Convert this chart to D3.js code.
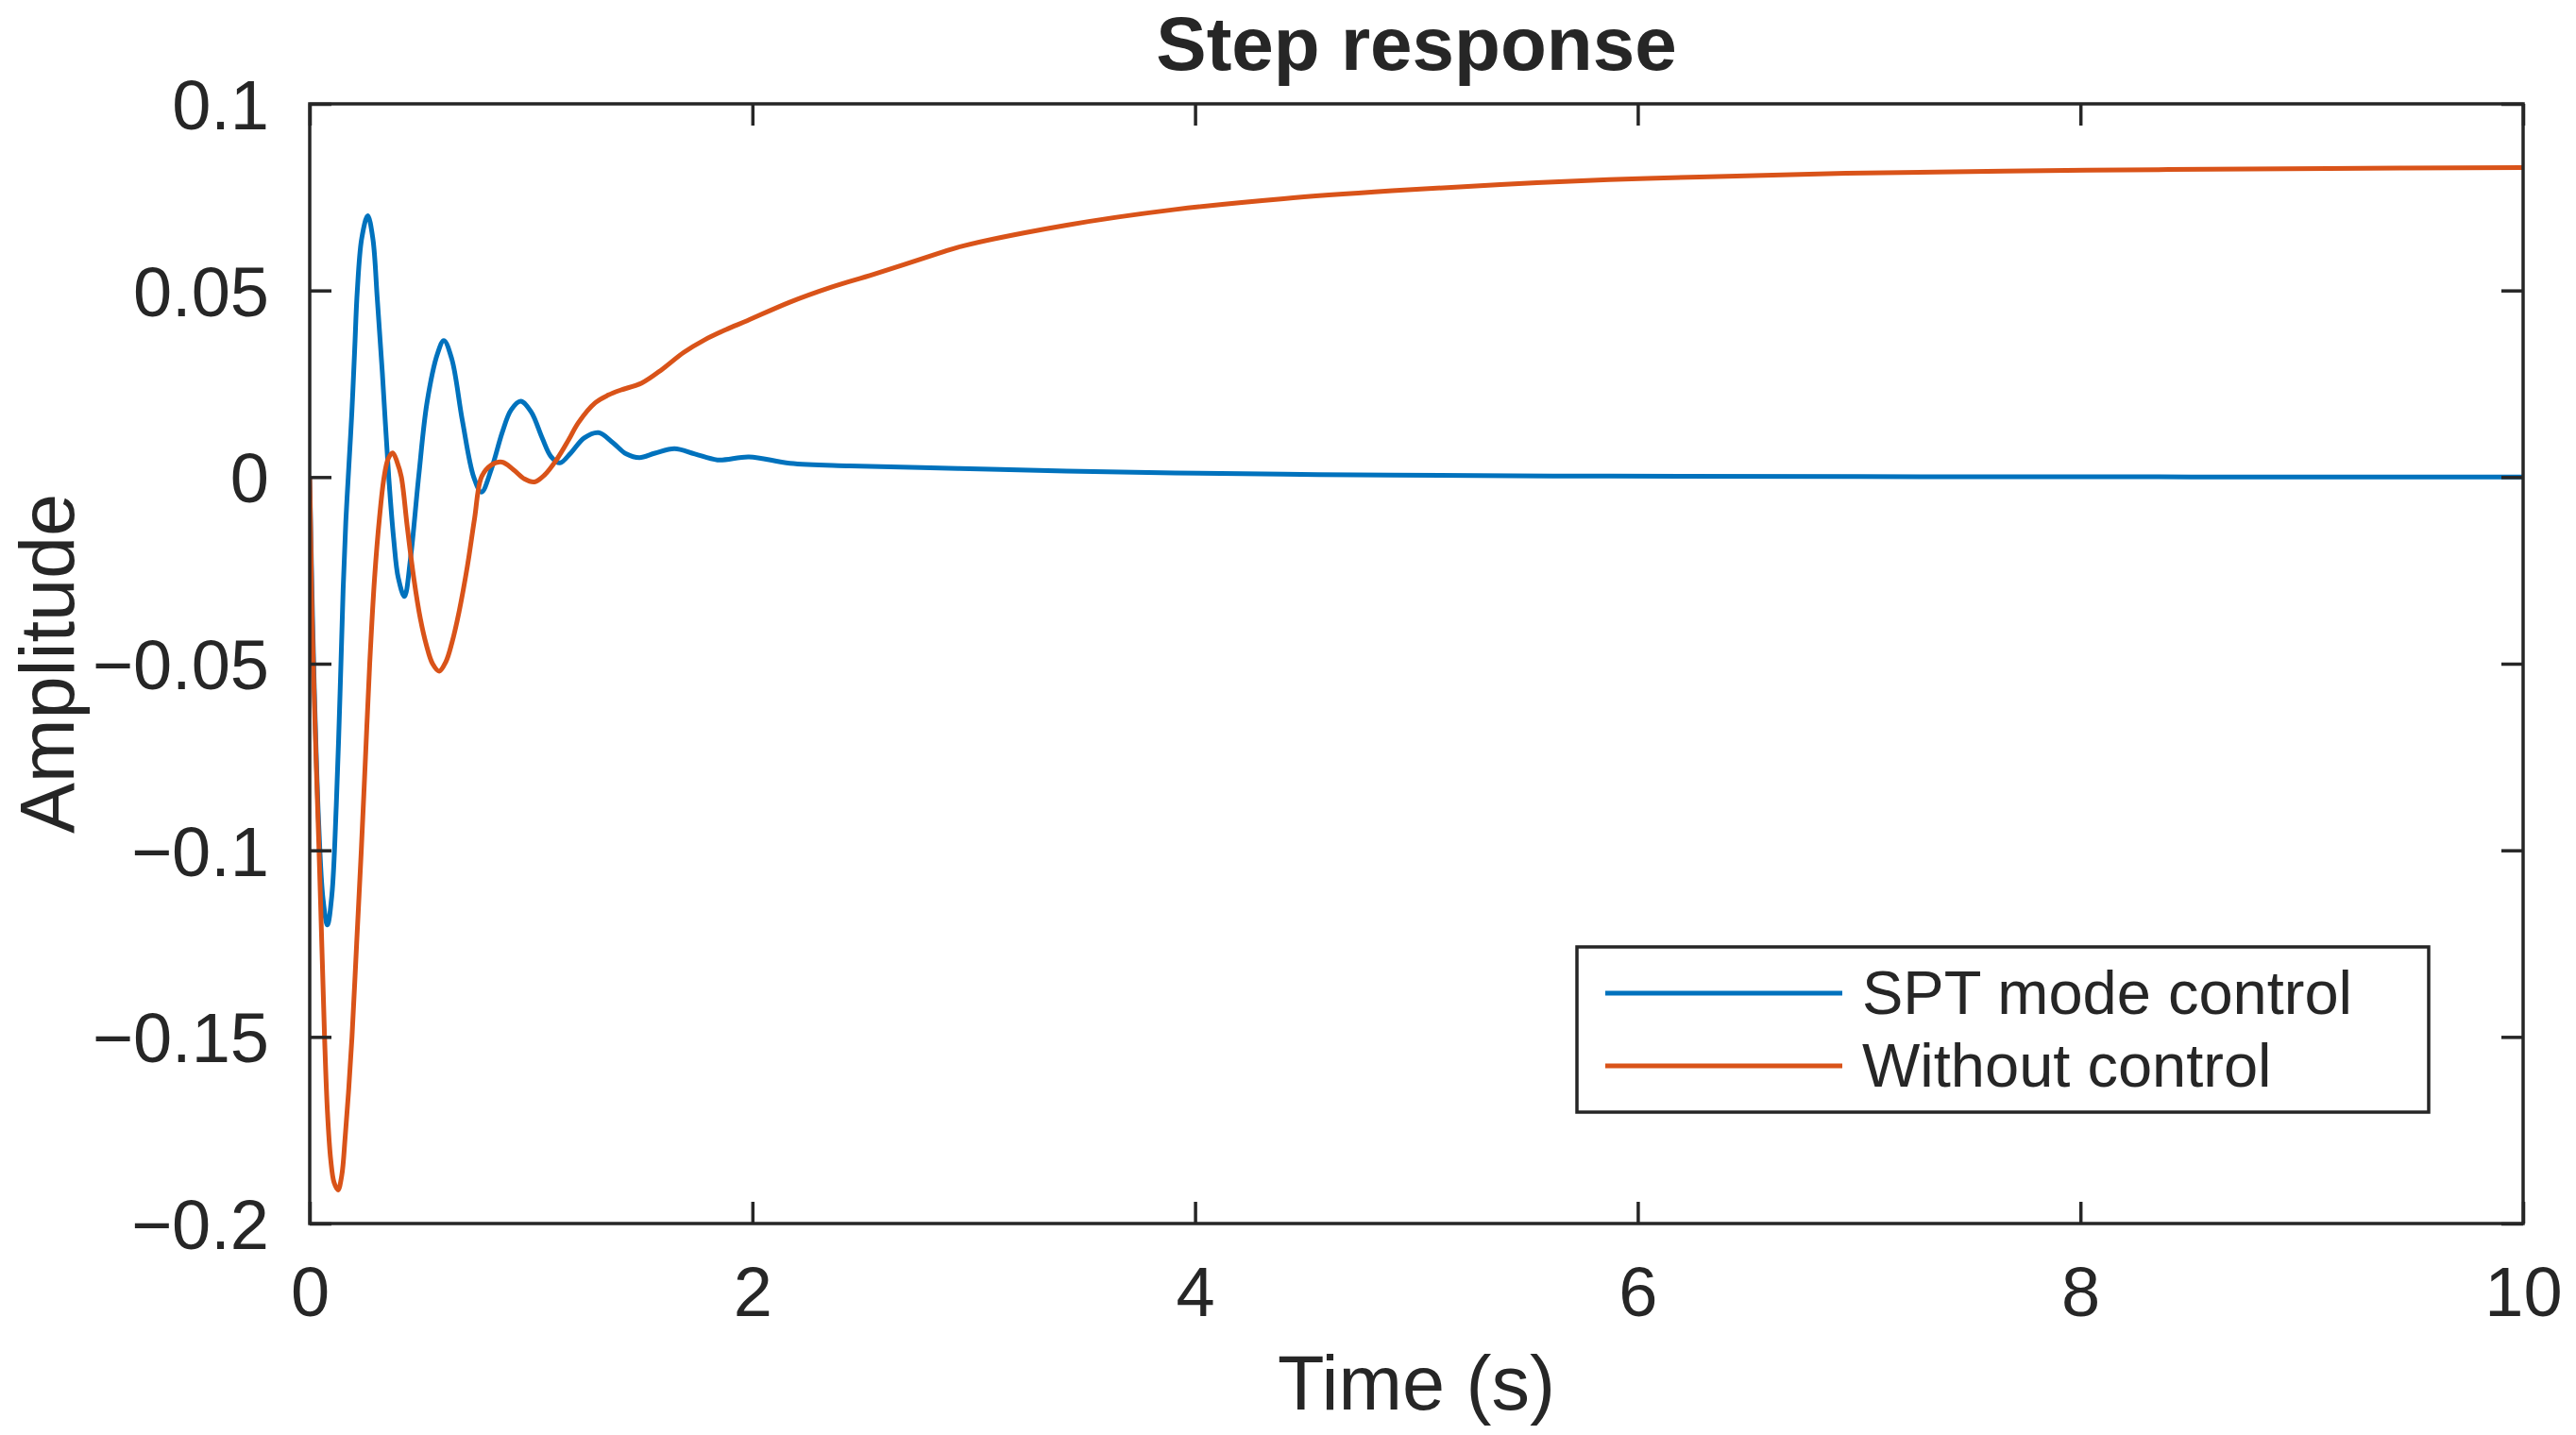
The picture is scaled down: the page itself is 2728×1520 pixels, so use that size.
<!DOCTYPE html>
<html>
<head>
<meta charset="utf-8">
<script src="https://cdn.jsdelivr.net/npm/d3@7"></script>
<style>
  html, body { margin: 0; padding: 0; background: #ffffff; }
  svg { display: block; }
  text { font-family: "Liberation Sans", Arial, Helvetica, sans-serif; fill: #262626; }
</style>
</head>
<body>
<svg id="chart" width="2728" height="1520"></svg>
<script>
// ---- data ----
const titleText = "Step response";
const xLabelText = "Time (s)";
const yLabelText = "Amplitude";
const seriesNames = ["SPT mode control", "Without control"];

const xTicks = [0, 2, 4, 6, 8, 10];
const xTickLabels = ["0", "2", "4", "6", "8", "10"];
const yTicks = [-0.2, -0.15, -0.1, -0.05, 0, 0.05, 0.1];
const yTickLabels = ["\u22120.2", "\u22120.15", "\u22120.1", "\u22120.05", "0", "0.05", "0.1"];

const sptTime = [0, 0.01, 0.02, 0.04, 0.06, 0.08, 0.10, 0.12, 0.137, 0.151, 0.163, 0.174, 0.19, 0.203, 0.215, 0.235, 0.262, 0.285, 0.305, 0.328, 0.357, 0.38, 0.40, 0.428, 0.455, 0.492, 0.53, 0.577, 0.606, 0.642, 0.69, 0.741, 0.776, 0.82, 0.87, 0.91, 0.953, 1.0, 1.05, 1.09, 1.13, 1.18, 1.24, 1.305, 1.37, 1.43, 1.49, 1.56, 1.648, 1.74, 1.842, 1.985, 2.17, 2.44, 2.93, 3.42, 3.91, 4.4, 4.89, 5.87, 7, 8.5, 10];
const sptValue = [0, -0.03, -0.055, -0.092, -0.113, -0.120, -0.112, -0.088, -0.058, -0.030, -0.012, 0.0, 0.017, 0.034, 0.050, 0.064, 0.070, 0.064, 0.048, 0.028, 0.0, -0.017, -0.027, -0.032, -0.022, 0.0, 0.020, 0.0330, 0.0366, 0.0316, 0.015, 0.0, -0.0040, 0.002, 0.012, 0.018, 0.0203, 0.0175, 0.0105, 0.0055, 0.0038, 0.0065, 0.0105, 0.0119, 0.0092, 0.0062, 0.0052, 0.0064, 0.0076, 0.0062, 0.0046, 0.0054, 0.0037, 0.0030, 0.0023, 0.0016, 0.0011, 0.00076, 0.0005, 0.00025, 0.00012, 0.00005, 0.0];

const noCtrlTime = [0, 0.005, 0.011, 0.02, 0.03, 0.042, 0.055, 0.067, 0.08, 0.095, 0.11, 0.128, 0.145, 0.16, 0.175, 0.191, 0.212, 0.233, 0.252, 0.271, 0.293, 0.315, 0.336, 0.355, 0.375, 0.395, 0.414, 0.44, 0.47, 0.50, 0.527, 0.555, 0.585, 0.615, 0.642, 0.675, 0.712, 0.745, 0.776, 0.82, 0.869, 0.92, 0.97, 1.015, 1.06, 1.118, 1.17, 1.214, 1.29, 1.35, 1.404, 1.5, 1.595, 1.69, 1.785, 1.88, 1.976, 2.166, 2.357, 2.547, 2.85, 2.93, 3.42, 3.91, 4.4, 4.89, 5.38, 5.87, 6.28, 6.94, 8.03, 9.12, 10];
const noCtrlValue = [0, -0.018, -0.038, -0.058, -0.078, -0.100, -0.126, -0.150, -0.170, -0.183, -0.189, -0.191, -0.187, -0.177, -0.165, -0.150, -0.125, -0.100, -0.075, -0.050, -0.027, -0.011, 0.0, 0.005, 0.0065, 0.004, 0.0, -0.013, -0.027, -0.038, -0.045, -0.050, -0.052, -0.0495, -0.0445, -0.036, -0.024, -0.011, 0.0, 0.0032, 0.0040, 0.0020, -0.0005, -0.0013, 0.0005, 0.0049, 0.0100, 0.0146, 0.0199, 0.0220, 0.0233, 0.0252, 0.029, 0.0334, 0.0368, 0.0395, 0.0419, 0.0468, 0.0509, 0.0543, 0.0601, 0.0616, 0.0675, 0.0717, 0.0746, 0.0767, 0.0784, 0.0797, 0.0804, 0.0814, 0.0822, 0.0827, 0.0829];

const seriesColors = ["#0072BD", "#D95319"];

// ---- layout ----
const plot = { left: 328, top: 110, right: 2672, bottom: 1296 };
const axisColor = "#262626";
const tickFont = 74;

const svg = d3.select("#chart");
svg.append("rect").attr("width", 2728).attr("height", 1520).attr("fill", "#ffffff");

const x = d3.scaleLinear().domain([0, 10]).range([plot.left, plot.right]);
const y = d3.scaleLinear().domain([-0.2, 0.1]).range([plot.bottom, plot.top]);

svg.append("clipPath").attr("id", "clip")
  .append("rect")
  .attr("x", plot.left).attr("y", plot.top)
  .attr("width", plot.right - plot.left).attr("height", plot.bottom - plot.top);

// lines
const series = [
  { name: seriesNames[0], data: sptTime.map((t, i) => [t, sptValue[i]]), color: seriesColors[0] },
  { name: seriesNames[1], data: noCtrlTime.map((t, i) => [t, noCtrlValue[i]]), color: seriesColors[1] }
];

const line = d3.line()
  .x(d => x(d[0]))
  .y(d => y(d[1]))
  .curve(d3.curveCatmullRom.alpha(0.5));

const lineG = svg.append("g").attr("clip-path", "url(#clip)");
series.forEach(s => {
  lineG.append("path")
    .attr("d", line(s.data))
    .attr("fill", "none")
    .attr("stroke", s.color)
    .attr("stroke-width", 5)
    .attr("stroke-linejoin", "round");
});

// axes
const tickLen = 23;
function styleAxis(g) {
  g.select(".domain").remove();
  g.selectAll(".tick line").attr("stroke", axisColor).attr("stroke-width", 3.5);
  g.selectAll(".tick text")
    .attr("fill", axisColor)
    .style("font-family", '"Liberation Sans", Arial, Helvetica, sans-serif')
    .style("font-size", tickFont + "px");
}

svg.append("g")
  .attr("transform", `translate(0,${plot.bottom})`)
  .call(d3.axisBottom(x).tickValues(xTicks).tickFormat((d, i) => xTickLabels[i])
        .tickSize(-tickLen).tickSizeOuter(0).tickPadding(45))
  .call(styleAxis)
  .call(g => g.selectAll(".tick text").attr("y", 45).attr("dy", "0.71em"));

svg.append("g")
  .attr("transform", `translate(0,${plot.top})`)
  .call(d3.axisTop(x).tickValues(xTicks).tickFormat("").tickSize(-tickLen).tickSizeOuter(0))
  .call(styleAxis);

svg.append("g")
  .attr("transform", `translate(${plot.left},0)`)
  .call(d3.axisLeft(y).tickValues(yTicks).tickFormat((d, i) => yTickLabels[i])
        .tickSize(-tickLen).tickSizeOuter(0).tickPadding(43))
  .call(styleAxis)
  .call(g => g.selectAll(".tick text").attr("x", -43).attr("dy", "0.36em"));

svg.append("g")
  .attr("transform", `translate(${plot.right},0)`)
  .call(d3.axisRight(y).tickValues(yTicks).tickFormat("").tickSize(-tickLen).tickSizeOuter(0))
  .call(styleAxis);

// box
svg.append("rect")
  .attr("x", plot.left).attr("y", plot.top)
  .attr("width", plot.right - plot.left).attr("height", plot.bottom - plot.top)
  .attr("fill", "none").attr("stroke", axisColor).attr("stroke-width", 3.5);

// title & labels
svg.append("text")
  .attr("x", (plot.left + plot.right) / 2).attr("y", 74)
  .attr("text-anchor", "middle")
  .style("font-size", "80px").style("font-weight", "bold")
  .text(titleText);

svg.append("text")
  .attr("x", (plot.left + plot.right) / 2).attr("y", 1493)
  .attr("text-anchor", "middle")
  .style("font-size", "81px")
  .text(xLabelText);

svg.append("text")
  .attr("transform", `translate(78,${(plot.top + plot.bottom) / 2}) rotate(-90)`)
  .attr("text-anchor", "middle")
  .style("font-size", "81px")
  .text(yLabelText);

// legend
const legend = { left: 1670, top: 1003, right: 2572, bottom: 1178 };
const legendG = svg.append("g");
legendG.append("rect")
  .attr("x", legend.left).attr("y", legend.top)
  .attr("width", legend.right - legend.left).attr("height", legend.bottom - legend.top)
  .attr("fill", "#ffffff").attr("stroke", axisColor).attr("stroke-width", 3.5);

const rowY = [1052, 1129];
series.forEach((s, i) => {
  legendG.append("line")
    .attr("x1", 1700).attr("x2", 1951)
    .attr("y1", rowY[i]).attr("y2", rowY[i])
    .attr("stroke", s.color).attr("stroke-width", 5);
  legendG.append("text")
    .attr("x", 1972).attr("y", rowY[i] + 22)
    .style("font-size", "65px")
    .text(s.name);
});
</script>
</body>
</html>
